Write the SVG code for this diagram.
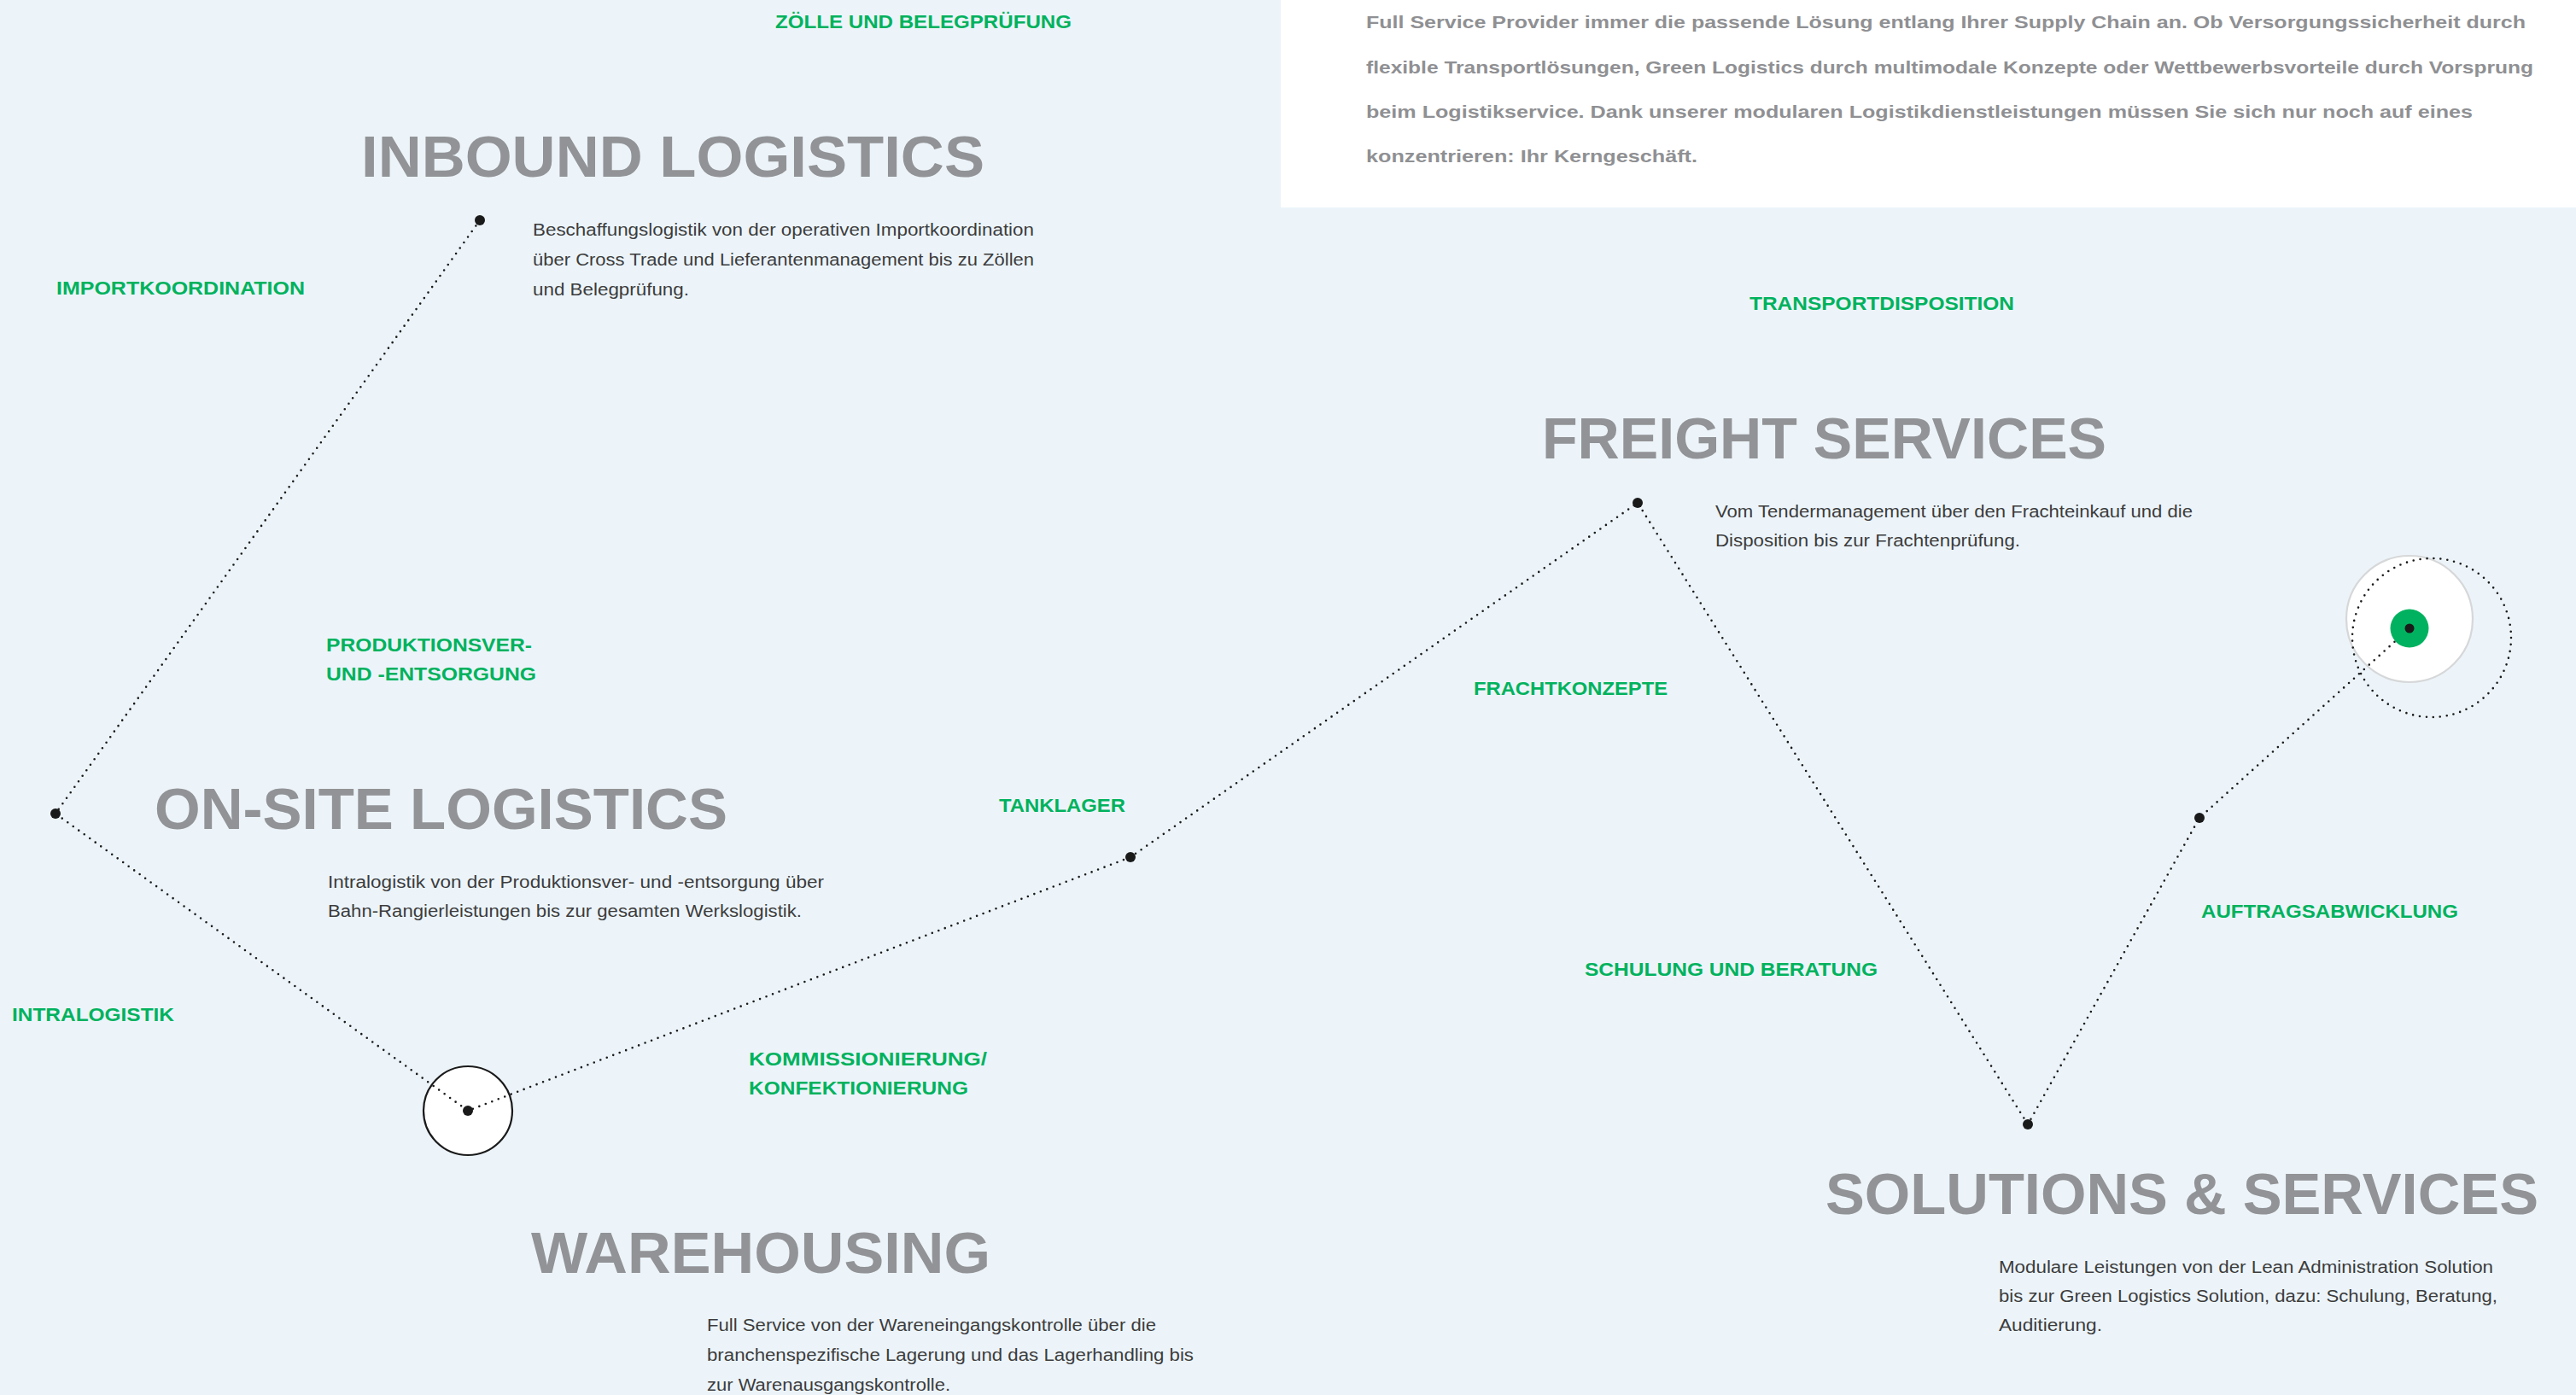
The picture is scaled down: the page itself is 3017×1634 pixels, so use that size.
<svg xmlns="http://www.w3.org/2000/svg" width="3017" height="1634" viewBox="0 0 3017 1634">
<style>
.para{font-family:"Liberation Sans",Arial,sans-serif;font-weight:bold;font-size:21px;fill:#8f9093}
.title{font-family:"Liberation Sans",Arial,sans-serif;font-weight:bold;font-size:69px;fill:#929396}
.lab{font-family:"Liberation Sans",Arial,sans-serif;font-weight:bold;font-size:22px;fill:#00b25d}
.desc{font-family:"Liberation Sans",Arial,sans-serif;font-size:20px;fill:#3c3c3c}
.dots{fill:none;stroke:#1a1a1a;stroke-width:2.6;stroke-dasharray:0 8;stroke-linecap:round}
.dot{fill:#1a1a1a}
</style>
<rect x="0" y="0" width="3017" height="1634" fill="#ecf4fa"/>
<g id="intro">
<rect x="1500" y="0" width="1517" height="243" fill="#ffffff"/>
<text class="para" x="1600" y="33" textLength="1358" lengthAdjust="spacingAndGlyphs">Full Service Provider immer die passende Lösung entlang Ihrer Supply Chain an. Ob Versorgungssicherheit durch</text>
<text class="para" x="1600" y="86" textLength="1367" lengthAdjust="spacingAndGlyphs">flexible Transportlösungen, Green Logistics durch multimodale Konzepte oder Wettbewerbsvorteile durch Vorsprung</text>
<text class="para" x="1600" y="138" textLength="1296" lengthAdjust="spacingAndGlyphs">beim Logistikservice. Dank unserer modularen Logistikdienstleistungen müssen Sie sich nur noch auf eines</text>
<text class="para" x="1600" y="190" textLength="388" lengthAdjust="spacingAndGlyphs">konzentrieren: Ihr Kerngeschäft.</text>
</g>
<g id="node-backgrounds">
<circle cx="548" cy="1301" r="52" fill="#ffffff" stroke="#1a1a1a" stroke-width="2.2"/>
<circle cx="2822" cy="725" r="74" fill="#ffffff" stroke="#d6d7d8" stroke-width="2.2"/>
</g>
<g id="connectors">
<path class="dots" d="M562,258 L65,953 L548,1301 L1324,1004 L1918,589 L2375,1317 L2576,958 L2822,736"/>
<circle class="dots" cx="2848" cy="747" r="93"/>
</g>
<g id="inbound-logistics">
<circle class="dot" cx="562" cy="258" r="6"/>
<text class="title" x="423" y="207" textLength="730" lengthAdjust="spacingAndGlyphs">INBOUND LOGISTICS</text>
<text class="desc" x="624" y="276" textLength="587" lengthAdjust="spacingAndGlyphs">Beschaffungslogistik von der operativen Importkoordination</text>
<text class="desc" x="624" y="311" textLength="587" lengthAdjust="spacingAndGlyphs">über Cross Trade und Lieferantenmanagement bis zu Zöllen</text>
<text class="desc" x="624" y="346" textLength="183" lengthAdjust="spacingAndGlyphs">und Belegprüfung.</text>
</g>
<g id="on-site-logistics">
<circle class="dot" cx="65" cy="953" r="6"/>
<text class="title" x="181" y="971" textLength="671" lengthAdjust="spacingAndGlyphs">ON-SITE LOGISTICS</text>
<text class="desc" x="384" y="1040" textLength="581" lengthAdjust="spacingAndGlyphs">Intralogistik von der Produktionsver- und -entsorgung über</text>
<text class="desc" x="384" y="1074" textLength="555" lengthAdjust="spacingAndGlyphs">Bahn-Rangierleistungen bis zur gesamten Werkslogistik.</text>
</g>
<g id="warehousing">
<circle class="dot" cx="548" cy="1301" r="6"/>
<text class="title" x="622" y="1491" textLength="538" lengthAdjust="spacingAndGlyphs">WAREHOUSING</text>
<text class="desc" x="828" y="1559" textLength="526" lengthAdjust="spacingAndGlyphs">Full Service von der Wareneingangskontrolle über die</text>
<text class="desc" x="828" y="1594" textLength="570" lengthAdjust="spacingAndGlyphs">branchenspezifische Lagerung und das Lagerhandling bis</text>
<text class="desc" x="828" y="1629" textLength="285" lengthAdjust="spacingAndGlyphs">zur Warenausgangskontrolle.</text>
</g>
<g id="tanklager-point">
<circle class="dot" cx="1324" cy="1004" r="6"/>
</g>
<g id="freight-services">
<circle class="dot" cx="1918" cy="589" r="6"/>
<text class="title" x="1806" y="537" textLength="661" lengthAdjust="spacingAndGlyphs">FREIGHT SERVICES</text>
<text class="desc" x="2009" y="606" textLength="559" lengthAdjust="spacingAndGlyphs">Vom Tendermanagement über den Frachteinkauf und die</text>
<text class="desc" x="2009" y="640" textLength="357" lengthAdjust="spacingAndGlyphs">Disposition bis zur Frachtenprüfung.</text>
</g>
<g id="solutions-services">
<circle class="dot" cx="2375" cy="1317" r="6"/>
<text class="title" x="2138" y="1422" textLength="835" lengthAdjust="spacingAndGlyphs">SOLUTIONS &amp; SERVICES</text>
<text class="desc" x="2341" y="1491" textLength="579" lengthAdjust="spacingAndGlyphs">Modulare Leistungen von der Lean Administration Solution</text>
<text class="desc" x="2341" y="1525" textLength="584" lengthAdjust="spacingAndGlyphs">bis zur Green Logistics Solution, dazu: Schulung, Beratung,</text>
<text class="desc" x="2341" y="1559" textLength="121" lengthAdjust="spacingAndGlyphs">Auditierung.</text>
</g>
<g id="auftrag-point">
<circle class="dot" cx="2576" cy="958" r="6"/>
</g>
<g id="target">
<circle cx="2822" cy="736" r="22.5" fill="#00b25f"/>
<circle class="dot" cx="2822" cy="736" r="5.5"/>
</g>
<g id="labels">
<text class="lab" x="908" y="33" textLength="347" lengthAdjust="spacingAndGlyphs">ZÖLLE UND BELEGPRÜFUNG</text>
<text class="lab" x="66" y="345" textLength="291" lengthAdjust="spacingAndGlyphs">IMPORTKOORDINATION</text>
<text class="lab" x="382" y="763" textLength="241" lengthAdjust="spacingAndGlyphs">PRODUKTIONSVER-</text>
<text class="lab" x="382" y="797" textLength="246" lengthAdjust="spacingAndGlyphs">UND -ENTSORGUNG</text>
<text class="lab" x="14" y="1196" textLength="190" lengthAdjust="spacingAndGlyphs">INTRALOGISTIK</text>
<text class="lab" x="877" y="1248" textLength="279" lengthAdjust="spacingAndGlyphs">KOMMISSIONIERUNG/</text>
<text class="lab" x="877" y="1282" textLength="257" lengthAdjust="spacingAndGlyphs">KONFEKTIONIERUNG</text>
<text class="lab" x="1170" y="951" textLength="148" lengthAdjust="spacingAndGlyphs">TANKLAGER</text>
<text class="lab" x="1726" y="814" textLength="227" lengthAdjust="spacingAndGlyphs">FRACHTKONZEPTE</text>
<text class="lab" x="2049" y="363" textLength="310" lengthAdjust="spacingAndGlyphs">TRANSPORTDISPOSITION</text>
<text class="lab" x="1856" y="1143" textLength="343" lengthAdjust="spacingAndGlyphs">SCHULUNG UND BERATUNG</text>
<text class="lab" x="2578" y="1075" textLength="301" lengthAdjust="spacingAndGlyphs">AUFTRAGSABWICKLUNG</text>
</g>
</svg>
